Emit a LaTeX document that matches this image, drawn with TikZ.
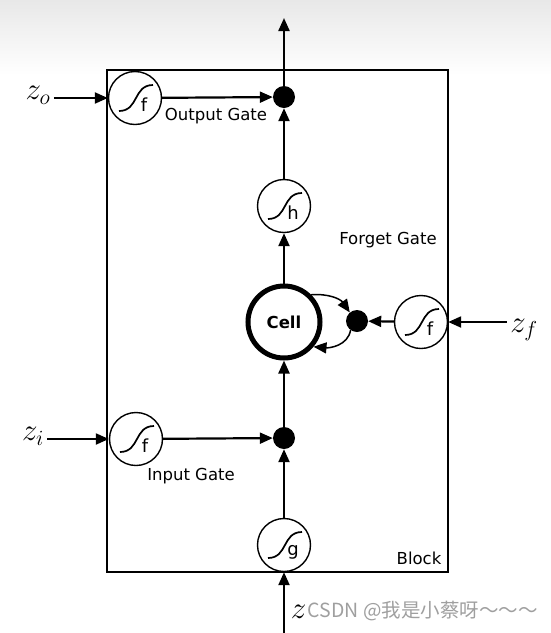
\RequirePackage{fix-cm}
\documentclass[tikz,border=0pt]{standalone}
\usepackage{fontspec}
\setmainfont{DejaVu Sans}
\newfontfamily\cjk{Noto Sans CJK SC}
\usetikzlibrary{arrows.meta}

\begin{document}
\begin{tikzpicture}[x=1pt, y=-1pt,
  >={Triangle[length=13pt,width=11pt]},
  every node/.style={font=\fontsize{16.5}{19}\selectfont},
  gate/.style={circle, draw, fill=white, line width=1.4pt, minimum size=53pt, inner sep=0pt,
    path picture={\draw[line width=1.7pt] ([shift={(-16pt,-13pt)}]path picture bounding box.center)
      .. controls +(20pt,0pt) and +(-20pt,0pt) .. ([shift={(18pt,13pt)}]path picture bounding box.center);},
    label={[xshift=9pt,yshift=-7pt, font=\fontsize{18}{20}\selectfont]center:#1}},
  dot/.style={circle, fill, minimum size=22pt, inner sep=0pt},
  zlabel/.style={font=\fontsize{31}{34}\selectfont},
  link/.style={->, line width=2.2pt}]
  \useasboundingbox (0,0) rectangle (551,633);
  \shade[top color=gray!18, bottom color=white] (0,0) rectangle (551,75);

  % Block
  \node[draw, line width=2.3pt, minimum width=341pt, minimum height=502pt, inner sep=0pt] (block) at (277.5,321) {};
  \node (blocktext) at (419,558) {Block};

  % Gates and cell
  \node[gate=f] (og) at (135,98) {};
  \node[dot] (od) at (284,97) {};
  \node[gate=h] (hg) at (284,206) {};
  \node[draw, circle, line width=5pt, minimum size=72pt, font=\bfseries\fontsize{16.5}{19}\selectfont] (cell) at (284,322) {Cell};
  \node[dot] (fd) at (357,321) {};
  \node[gate=f] (fg) at (421,322) {};
  \node[dot] (id) at (284,438) {};
  \node[gate=f] (ig) at (136,439) {};
  \node[gate=g] (gg) at (284,545) {};

  \node (outtext) at (216,116) {Output Gate};
  \node (fgtext) at (388,240) {Forget Gate};
  \node (intext) at (191,476) {Input Gate};

  % Inputs
  \node[zlabel] (zo) at (38,95) {$z_o$};
  \node[zlabel] (zi) at (33,436) {$z_i$};
  \node[zlabel] (zf) at (524,330) {$z_f$};
  \node[zlabel, anchor=east] (zg) at (310,612) {$z$};
  \node[anchor=west, inner sep=0pt, text=gray!75, font=\cjk\fontsize{19.5}{22}\selectfont] (mark) at ([xshift=-2.5pt,yshift=1pt]zg.east) {CSDN @我是小蔡呀～～～};
  \coordinate (top) at (284,18);
  \coordinate (bottom) at (284,633);

  % Connections
  \draw[link] (zo.east |- og) -- (og);
  \draw[link] (og) -- (od);
  \draw[link] (hg) -- (od);
  \draw[link] (od) -- (top);
  \draw[link] (cell) -- (hg);
  \draw[link] (zf.west |- fg) -- (fg);
  \draw[link] (fg) -- (fd);
  \draw[link, line width=1.5pt] (cell.45) to[out=5,in=125] (fd.130);
  \draw[link, line width=1.5pt] (fd.235) to[out=260,in=-5] (cell.-40);
  \draw[link] (id) -- (cell);
  \draw[link] (zi.east |- ig) -- (ig);
  \draw[link] (ig) -- (id);
  \draw[link] (gg) -- (id);
  \draw[link] (bottom) -- (gg);
\end{tikzpicture}
\end{document}
